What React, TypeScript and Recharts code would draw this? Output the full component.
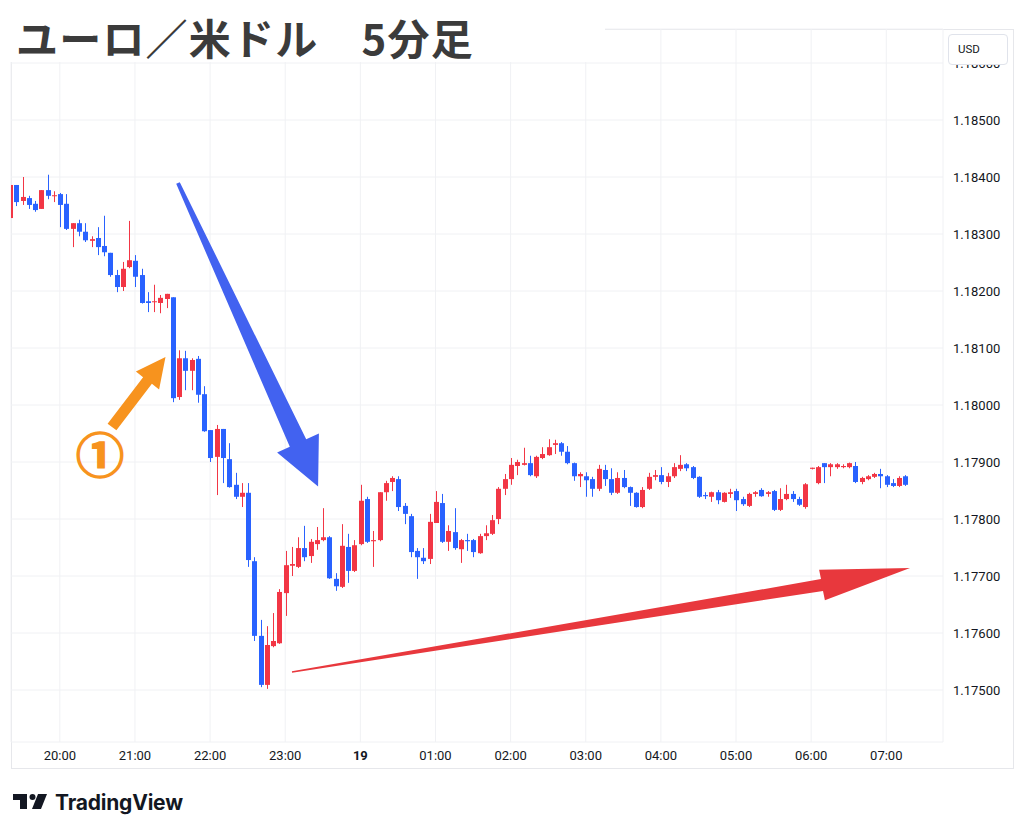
import React from "react"
import { Bar, CartesianGrid, ComposedChart, XAxis, YAxis } from "recharts"

// 5-minute candles, first one at 19:20 (minutes counted from 19:00)
const START_MIN = 20
const STEP_MIN = 5

const opens = [
  1.18328, 1.18386, 1.18358, 1.18363, 1.18353, 1.18344, 1.18377, 1.18367,
  1.1837, 1.18353, 1.18309, 1.18319, 1.18304, 1.18288, 1.18293, 1.18279, 1.18267, 1.18228, 1.18207, 1.18242,
  1.18253, 1.18228, 1.18182, 1.18181, 1.18179, 1.18186, 1.18189, 1.18014, 1.18082, 1.1806, 1.18081, 1.18019,
  1.17956, 1.17909, 1.17958, 1.17905, 1.1786, 1.17839, 1.17846, 1.17726, 1.17595, 1.17509, 1.17577, 1.17582,
  1.1767, 1.17718, 1.17716, 1.17749, 1.17735, 1.17756, 1.17763, 1.17768, 1.17695, 1.17681, 1.17751, 1.17709,
  1.17756, 1.17835, 1.17761, 1.17763, 1.17847, 1.17865, 1.1787, 1.17823, 1.17805, 1.17744, 1.17732, 1.1773,
  1.17793, 1.17828, 1.1776, 1.17777, 1.17747, 1.17763, 1.17763, 1.1774, 1.1777, 1.17774, 1.178, 1.17853,
  1.1787, 1.17893, 1.17895, 1.17898, 1.17875, 1.17907, 1.17912, 1.1793, 1.17933, 1.17918, 1.17898, 1.17875,
  1.17875, 1.1787, 1.17853, 1.17886, 1.1787, 1.17846, 1.17872, 1.17856, 1.17846, 1.17821, 1.17853, 1.17874,
  1.17877, 1.17865, 1.17875, 1.17888, 1.17896, 1.17891, 1.17874, 1.17842, 1.17839, 1.17847, 1.1783, 1.17844,
  1.17849, 1.17835, 1.17823, 1.17844, 1.17851, 1.17844, 1.17849, 1.17816, 1.17835, 1.17844, 1.17835, 1.17821,
  1.17888, 1.17863, 1.17898, 1.17891, 1.17891, 1.17891, 1.17891, 1.17893, 1.17865, 1.1787, 1.17874, 1.17879,
  1.17875, 1.17863, 1.17858, 1.17875,
]

const highs = [
  1.18386, 1.18386, 1.184, 1.18367, 1.18358, 1.18377, 1.18404, 1.18375,
  1.18372, 1.1837, 1.18319, 1.18325, 1.18319, 1.18296, 1.18312, 1.18332, 1.18267, 1.18237, 1.18251, 1.18323,
  1.18263, 1.18239, 1.18198, 1.18211, 1.18193, 1.18195, 1.18189, 1.18096, 1.18095, 1.18082, 1.18086, 1.18033,
  1.17956, 1.17965, 1.17958, 1.17933, 1.17881, 1.17863, 1.17863, 1.17733, 1.17623, 1.17612, 1.17635, 1.17677,
  1.17744, 1.17751, 1.17768, 1.17788, 1.17765, 1.17786, 1.17819, 1.1777, 1.17705, 1.17791, 1.17774, 1.17763,
  1.1786, 1.17839, 1.17779, 1.17847, 1.17867, 1.17875, 1.17875, 1.17828, 1.17809, 1.17749, 1.17749, 1.17809,
  1.17849, 1.17844, 1.17789, 1.17819, 1.17765, 1.17774, 1.17765, 1.17774, 1.17789, 1.17807, 1.17856, 1.17879,
  1.17907, 1.17904, 1.17925, 1.17911, 1.17911, 1.17926, 1.1794, 1.17939, 1.17935, 1.17928, 1.17899, 1.17882,
  1.17882, 1.17874, 1.17895, 1.17895, 1.17889, 1.17882, 1.17886, 1.17857, 1.17847, 1.17856, 1.17881, 1.17886,
  1.17891, 1.17881, 1.17898, 1.17912, 1.17898, 1.17893, 1.17875, 1.17847, 1.17848, 1.17851, 1.17847, 1.17853,
  1.17853, 1.17839, 1.17846, 1.17849, 1.17854, 1.17849, 1.17851, 1.17854, 1.1786, 1.17849, 1.17839, 1.17863,
  1.1789, 1.17893, 1.17898, 1.17898, 1.17898, 1.17896, 1.17899, 1.179, 1.17874, 1.17877, 1.17881, 1.17888,
  1.17877, 1.1787, 1.17875, 1.17877,
]

const lows = [
  1.18328, 1.18349, 1.18351, 1.18344, 1.18339, 1.18344, 1.18361, 1.18356,
  1.18312, 1.18307, 1.18277, 1.18296, 1.18286, 1.18277, 1.18263, 1.18261, 1.18225, 1.18198, 1.182, 1.1824,
  1.18207, 1.18178, 1.18163, 1.18163, 1.18161, 1.1817, 1.18005, 1.18009, 1.18026, 1.18026, 1.18004, 1.17953,
  1.179, 1.17842, 1.17863, 1.17855, 1.17835, 1.17821, 1.17716, 1.17586, 1.17505, 1.17502, 1.17575, 1.17581,
  1.1763, 1.177, 1.17714, 1.17726, 1.17723, 1.17746, 1.17761, 1.17695, 1.17674, 1.17679, 1.17688, 1.17707,
  1.17754, 1.17758, 1.17716, 1.17761, 1.17832, 1.17849, 1.17814, 1.17791, 1.17733, 1.17695, 1.17721, 1.17721,
  1.17793, 1.17758, 1.17744, 1.17746, 1.17723, 1.17744, 1.17733, 1.17739, 1.17763, 1.17772, 1.17791, 1.17842,
  1.1786, 1.17877, 1.17894, 1.17875, 1.17872, 1.17905, 1.17911, 1.17914, 1.17911, 1.17896, 1.17867, 1.17856,
  1.17839, 1.17839, 1.17849, 1.17858, 1.17842, 1.17844, 1.17854, 1.17823, 1.1782, 1.17819, 1.17851, 1.17868,
  1.17861, 1.17856, 1.17872, 1.17884, 1.17884, 1.1787, 1.17837, 1.17835, 1.1783, 1.17826, 1.17829, 1.17837,
  1.17814, 1.17823, 1.17821, 1.17839, 1.17839, 1.17839, 1.17814, 1.17814, 1.17833, 1.1783, 1.17823, 1.17818,
  1.17887, 1.17861, 1.17863, 1.17875, 1.17888, 1.17889, 1.17889, 1.17863, 1.17861, 1.17868, 1.17872, 1.17854,
  1.17856, 1.17856, 1.17856, 1.17858,
]

const closes = [
  1.18386, 1.18356, 1.18365, 1.18351, 1.18342, 1.18377, 1.18367, 1.18368,
  1.18351, 1.18309, 1.18319, 1.18304, 1.18289, 1.18291, 1.18277, 1.18268, 1.18228, 1.18207, 1.18239, 1.18254,
  1.18225, 1.18179, 1.18179, 1.18182, 1.18188, 1.18195, 1.18012, 1.18082, 1.1806, 1.18079, 1.18018, 1.17954,
  1.17907, 1.17958, 1.17907, 1.17856, 1.17839, 1.17846, 1.17728, 1.17595, 1.17509, 1.17579, 1.17586, 1.17672,
  1.17719, 1.17721, 1.17749, 1.17733, 1.1776, 1.17763, 1.17768, 1.17696, 1.17682, 1.17753, 1.17709, 1.17754,
  1.17832, 1.1776, 1.17763, 1.17847, 1.17863, 1.17872, 1.17821, 1.17809, 1.17742, 1.17733, 1.17726, 1.17795,
  1.1783, 1.1776, 1.17779, 1.17749, 1.17763, 1.17761, 1.17742, 1.1777, 1.17775, 1.17798, 1.17853, 1.1787,
  1.17895, 1.179, 1.17898, 1.17877, 1.17909, 1.17914, 1.17926, 1.17933, 1.17918, 1.17898, 1.17875, 1.17879,
  1.17868, 1.17853, 1.17888, 1.1787, 1.17846, 1.17872, 1.17856, 1.17846, 1.17821, 1.17851, 1.17874, 1.17877,
  1.17865, 1.17875, 1.17891, 1.17895, 1.17889, 1.17872, 1.17839, 1.1784, 1.17847, 1.17833, 1.17846, 1.17847,
  1.17833, 1.17826, 1.17844, 1.17847, 1.1784, 1.17847, 1.17816, 1.17835, 1.17844, 1.17835, 1.17825, 1.17861,
  1.1789, 1.17891, 1.17891, 1.17896, 1.17896, 1.17893, 1.17898, 1.17865, 1.17872, 1.17875, 1.17879, 1.17875,
  1.1786, 1.17858, 1.17872, 1.1786,
]

const hourTicks = [60, 120, 180, 240, 300, 360, 420, 480, 540, 600, 660, 720]
const priceTicks = [1.175, 1.176, 1.177, 1.178, 1.179, 1.18, 1.181, 1.182, 1.183, 1.184, 1.185, 1.186]

const UP = "#f23645"
const DOWN = "#2962ff"
const TEXT = "#131722"
const GRID = "#f0f1f4"
const ORANGE = "#f7931e"

const candles = opens.map((open, i) => ({
  t: START_MIN + i * STEP_MIN,
  open,
  high: highs[i],
  low: lows[i],
  close: closes[i],
}))

function Candle(props: any) {
  const { x, y, width, height, payload } = props
  if (x == null || !payload) return null
  const { open, close, high, low } = payload
  const color = close >= open ? UP : DOWN
  const k = high > low ? height / (high - low) : 0
  const py = (v: number) => y + (high - v) * k
  const top = py(Math.max(open, close))
  const bottom = py(Math.min(open, close))
  const cx = Math.round(x + width / 2) + 0.5
  return (
    <g>
      <line x1={cx} x2={cx} y1={y} y2={y + height} stroke={color} strokeWidth={1} />
      <rect x={cx - 2.5} y={top} width={5} height={Math.max(1, bottom - top)} fill={color} />
    </g>
  )
}

function TimeTick({ x, y, payload }: any) {
  const hour = (19 + payload.value / 60) % 24
  const isDay = hour === 0
  const label = isDay ? "19" : `${String(hour).padStart(2, "0")}:00`
  return (
    <text x={x} y={y} dy={9.5} textAnchor="middle" fill={TEXT} fontSize={13} fontWeight={isDay ? 700 : 400}>
      {label}
    </text>
  )
}

export default function App() {
  return (
    <div
      style={{
        position: "absolute",
        left: 0,
        top: 0,
        width: 1024,
        height: 835,
        background: "#fff",
        overflow: "hidden",
        fontFamily: "Roboto, sans-serif",
      }}
    >
      <div
        style={{
          position: "absolute",
          left: 11,
          top: 29,
          width: 1001,
          height: 738,
          border: "1px solid #e6e7eb",
        }}
      />
      <div style={{ position: "absolute", left: 0, top: 0 }}>
        <ComposedChart width={1024} height={768} data={candles} margin={{ top: 29, right: 11, bottom: 0, left: 11 }}>
          <CartesianGrid stroke={GRID} />
          <XAxis
            dataKey="t"
            type="number"
            domain={[21, 765.3]}
            allowDataOverflow
            ticks={hourTicks}
            interval={0}
            tick={<TimeTick />}
            tickSize={0}
            tickMargin={8}
            axisLine={false}
            tickLine={false}
            height={26}
          />
          <YAxis
            orientation="right"
            type="number"
            domain={[1.174088, 1.1865965]}
            allowDataOverflow
            ticks={priceTicks}
            interval={0}
            tickFormatter={(v: number) => v.toFixed(5)}
            tick={{ fill: TEXT, fontSize: 13 }}
            tickSize={0}
            tickMargin={10}
            axisLine={false}
            tickLine={false}
            width={70}
          />
          <Bar
            dataKey={(d: any) => [d.low, d.high]}
            barSize={5}
            shape={<Candle />}
            isAnimationActive={false}
          />
        </ComposedChart>
      </div>

      {/* title */}
      <div style={{ position: "absolute", left: 0, top: 0, width: 605, height: 62, background: "#fff" }}>
        <div
          style={{
            position: "absolute",
            left: 16,
            top: 16,
            fontFamily: "'Noto Sans CJK JP', sans-serif",
            fontWeight: 700,
            fontSize: 42,
            lineHeight: "42px",
            letterSpacing: 1.2,
            color: "#3b3b3b",
            whiteSpace: "pre",
          }}
        >
          ユーロ／米ドル　5分足
        </div>
      </div>

      {/* currency badge */}
      <div
        style={{
          position: "absolute",
          left: 948,
          top: 34,
          width: 60,
          height: 31,
          border: "1px solid #e0e3eb",
          borderRadius: 4,
          background: "#fff",
          color: TEXT,
          fontSize: 11.5,
          lineHeight: "28px",
          paddingLeft: 9,
          boxSizing: "border-box",
        }}
      >
        USD
      </div>

      {/* footer */}
      <svg style={{ position: "absolute", left: 13, top: 794 }} width={36} height={16}>
        <path d="M0,0 H14 V15 H7 V6 H0 Z" fill={TEXT} />
        <circle cx={19.5} cy={3} r={3} fill={TEXT} />
        <path d="M25,0 H34 L28,15 H19 Z" fill={TEXT} />
      </svg>
      <div
        style={{
          position: "absolute",
          left: 55,
          top: 792,
          fontFamily: "Inter, sans-serif",
          fontWeight: 700,
          fontSize: 21,
          lineHeight: "21px",
          color: TEXT,
          letterSpacing: -0.2,
        }}
      >
        TradingView
      </div>

      {/* annotations */}
      <svg style={{ position: "absolute", left: 0, top: 0, pointerEvents: "none" }} width={1024} height={835}>
        <polygon
          points="179.8,182.2 306.2,439.2 318.9,433.4 318.1,486.6 277.1,452.6 289.8,446.8 176.2,183.8"
          fill="#4262f0"
        />
        <polygon
          points="107.6,423.7 143.1,377.2 135.9,371.6 165.5,357 159.1,389.4 151.9,383.8 116.4,430.3"
          fill={ORANGE}
        />
        <text
          x={100}
          y={452}
          textAnchor="middle"
          dominantBaseline="central"
          fontFamily="'Noto Sans CJK JP', sans-serif"
          fontWeight={700}
          fontSize={48}
          fill={ORANGE}
          stroke={ORANGE}
          strokeWidth={1.6}
        >
          ①
        </text>
        <polygon
          points="291.9,671.3 821,579.1 819.1,569.8 910,568 824.9,600.2 823,590.9 292.1,672.7"
          fill="#e8383d"
        />
      </svg>
    </div>
  )
}
